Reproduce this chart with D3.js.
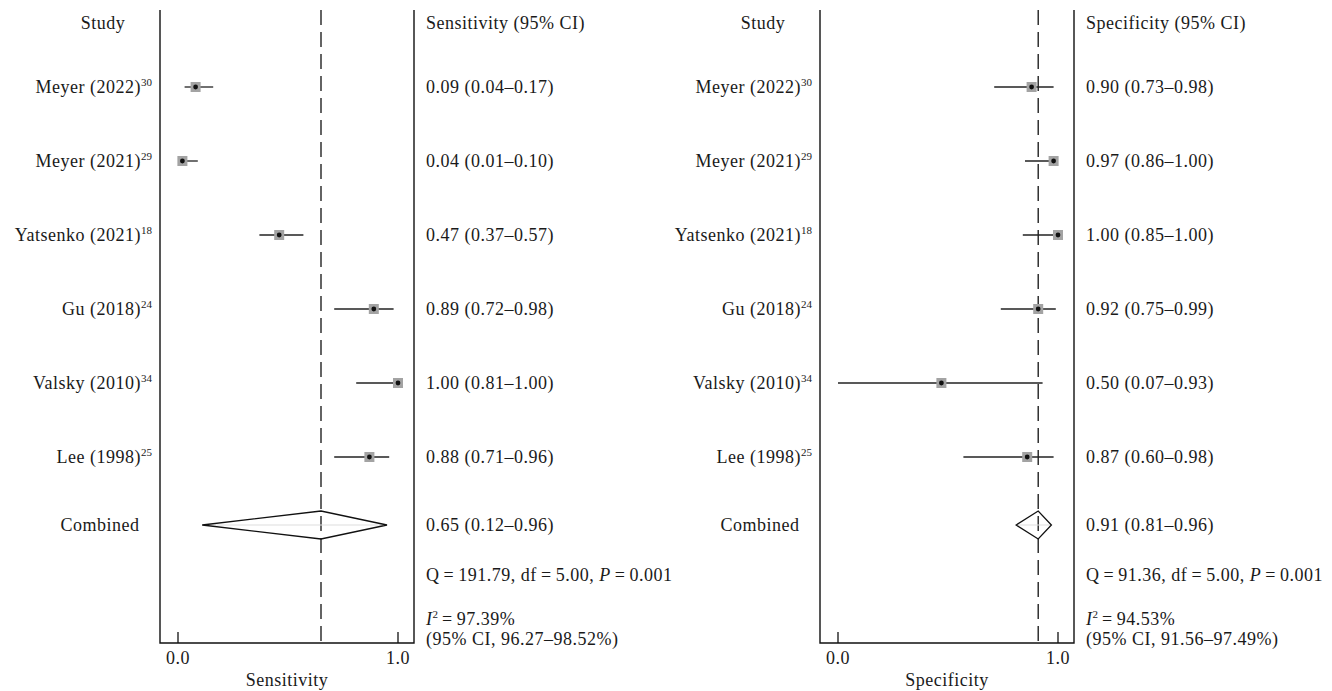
<!DOCTYPE html>
<html>
<head>
<meta charset="utf-8">
<script src="https://cdn.jsdelivr.net/npm/d3@7"></script>
<style>
  body { margin: 0; background: #fff; }
  text { font-family: "Liberation Serif", "Times New Roman", serif; font-size: 18px; fill: #1a1a1a; letter-spacing: 0.5px; }
</style>
</head>
<body>
<div id="chart"></div>
<script>
// study rows
const studies = ['Meyer (2022)', 'Meyer (2021)', 'Yatsenko (2021)', 'Gu (2018)', 'Valsky (2010)', 'Lee (1998)'];
const refs = ['30', '29', '18', '24', '34', '25'];

// sensitivity, as drawn
const sensEst = [0.08, 0.02, 0.46, 0.89, 1.00, 0.87];
const sensLo = [0.03, 0.01, 0.37, 0.71, 0.81, 0.71];
const sensHi = [0.16, 0.09, 0.57, 0.98, 1.00, 0.96];
const sensText = ['0.09 (0.04–0.17)', '0.04 (0.01–0.10)', '0.47 (0.37–0.57)', '0.89 (0.72–0.98)', '1.00 (0.81–1.00)', '0.88 (0.71–0.96)'];
const sensPooled = [0.65, 0.11, 0.95];
const sensPooledText = '0.65 (0.12–0.96)';

// specificity, as drawn
const specEst = [0.88, 0.98, 1.00, 0.91, 0.47, 0.86];
const specLo = [0.71, 0.85, 0.84, 0.74, 0.00, 0.57];
const specHi = [0.98, 1.00, 1.00, 0.99, 0.93, 0.98];
const specText = ['0.90 (0.73–0.98)', '0.97 (0.86–1.00)', '1.00 (0.85–1.00)', '0.92 (0.75–0.99)', '0.50 (0.07–0.93)', '0.87 (0.60–0.98)'];
const specPooled = [0.91, 0.81, 0.97];
const specPooledText = '0.91 (0.81–0.96)';

const xTicks = [0, 1];

let width = 1332;
let height = 691;

let svg = d3.select('#chart')
    .append('svg')
    .attr('width', width)
    .attr('height', height);

// row positions
let yRow = d3.scaleLinear().domain([0, 5]).range([87, 457]);
let yCombined = 525;
let frameTop = 10;
let frameBottom = 643;

function drawPanel(opts) {
    let g = svg.append('g').attr('transform', `translate(${opts.left},0)`);
    // opts.left is frame's left edge
    let x = d3.scaleLinear().domain([0, 1]).range([18, 18 + 220]);
    let frameW = 254;

    let rows = studies.map((s, i) => ({
        name: s, ref: refs[i], est: opts.est[i], lo: opts.lo[i], hi: opts.hi[i], text: opts.text[i], y: yRow(i)
    }));

    // headers
    g.append('text')
        .attr('x', -57).attr('y', 29)
        .attr('text-anchor', 'middle')
        .text('Study');
    g.append('text')
        .attr('x', frameW + 12).attr('y', 29)
        .text(opts.header);

    // frame (open top)
    g.append('path')
        .attr('d', `M0,${frameTop}V${frameBottom}H${frameW}V${frameTop}`)
        .attr('fill', 'none')
        .attr('stroke', '#111')
        .attr('stroke-width', 1.4);

    // ticks
    g.selectAll('.tick')
        .data(xTicks)
        .enter()
        .append('line')
        .attr('x1', d => x(d)).attr('x2', d => x(d))
        .attr('y1', frameBottom - 11).attr('y2', frameBottom)
        .attr('stroke', '#111')
        .attr('stroke-width', 1.3);
    g.selectAll('.ticklabel')
        .data(xTicks)
        .enter()
        .append('text')
        .attr('x', d => x(d)).attr('y', 664)
        .attr('text-anchor', 'middle')
        .text(d3.format('.1f'));
    g.append('text')
        .attr('x', frameW / 2).attr('y', 686)
        .attr('text-anchor', 'middle')
        .text(opts.axisLabel);

    // reference line at pooled estimate
    g.append('line')
        .attr('x1', x(opts.pooled[0])).attr('x2', x(opts.pooled[0]))
        .attr('y1', frameTop).attr('y2', frameBottom)
        .attr('stroke', '#111')
        .attr('stroke-width', 1.3)
        .attr('stroke-dasharray', '15,7');

    // study labels
    let lab = g.selectAll('.study')
        .data(rows)
        .enter()
        .append('text')
        .attr('x', -8).attr('y', d => d.y + 6)
        .attr('text-anchor', 'end');
    lab.append('tspan').text(d => d.name);
    lab.append('tspan')
        .attr('dy', -7)
        .style('font-size', '11px')
        .style('letter-spacing', '0px')
        .text(d => d.ref);

    // whiskers
    g.selectAll('.ci')
        .data(rows)
        .enter()
        .append('line')
        .attr('x1', d => x(d.lo)).attr('x2', d => x(d.hi))
        .attr('y1', d => d.y).attr('y2', d => d.y)
        .attr('stroke', '#222')
        .attr('stroke-width', 1.3);
    g.selectAll('.box')
        .data(rows)
        .enter()
        .append('rect')
        .attr('x', d => x(d.est) - 5).attr('y', d => d.y - 5)
        .attr('width', 10).attr('height', 10)
        .attr('fill', '#a3a3a3');
    g.selectAll('.dot')
        .data(rows)
        .enter()
        .append('circle')
        .attr('cx', d => x(d.est)).attr('cy', d => d.y)
        .attr('r', 2.4)
        .attr('fill', '#111');

    // value labels
    g.selectAll('.val')
        .data(rows)
        .enter()
        .append('text')
        .attr('x', frameW + 12).attr('y', d => d.y + 6)
        .text(d => d.text);

    // combined
    g.append('text')
        .attr('x', -60).attr('y', yCombined + 6)
        .attr('text-anchor', 'middle')
        .text('Combined');
    let p = opts.pooled;
    g.append('line')
        .attr('x1', x(p[1])).attr('x2', x(p[2]))
        .attr('y1', yCombined).attr('y2', yCombined)
        .attr('stroke', '#ddd')
        .attr('stroke-width', 1);
    g.append('path')
        .attr('d', `M${x(p[1])},${yCombined}L${x(p[0])},${yCombined - 14}L${x(p[2])},${yCombined}L${x(p[0])},${yCombined + 14}Z`)
        .attr('fill', 'none')
        .attr('stroke', '#111')
        .attr('stroke-width', 1.3);
    g.append('text')
        .attr('x', frameW + 12).attr('y', yCombined + 6)
        .text(opts.pooledText);

    // heterogeneity
    let q = g.append('text')
        .attr('x', frameW + 12).attr('y', 581);
    q.append('tspan').text(`Q\u2009=\u2009${opts.q}, df\u2009=\u20095.00, `);
    q.append('tspan').style('font-style', 'italic').text('P');
    q.append('tspan').text('\u2009=\u20090.001');

    let i2 = g.append('text')
        .attr('x', frameW + 12).attr('y', 625);
    i2.append('tspan').style('font-style', 'italic').text('I');
    i2.append('tspan').attr('dy', -7).style('font-size', '11px').style('letter-spacing', '0px').text('2');
    i2.append('tspan').attr('dy', 7).text(`\u2009=\u2009${opts.i2}`);

    g.append('text')
        .attr('x', frameW + 12).attr('y', 645)
        .text(`(95% CI, ${opts.i2ci})`);
}

drawPanel({
    left: 160, header: 'Sensitivity (95% CI)', axisLabel: 'Sensitivity',
    est: sensEst, lo: sensLo, hi: sensHi, text: sensText,
    pooled: sensPooled, pooledText: sensPooledText,
    q: '191.79', i2: '97.39%', i2ci: '96.27–98.52%'
});
drawPanel({
    left: 820, header: 'Specificity (95% CI)', axisLabel: 'Specificity',
    est: specEst, lo: specLo, hi: specHi, text: specText,
    pooled: specPooled, pooledText: specPooledText,
    q: '91.36', i2: '94.53%', i2ci: '91.56–97.49%'
});
</script>
</body>
</html>
